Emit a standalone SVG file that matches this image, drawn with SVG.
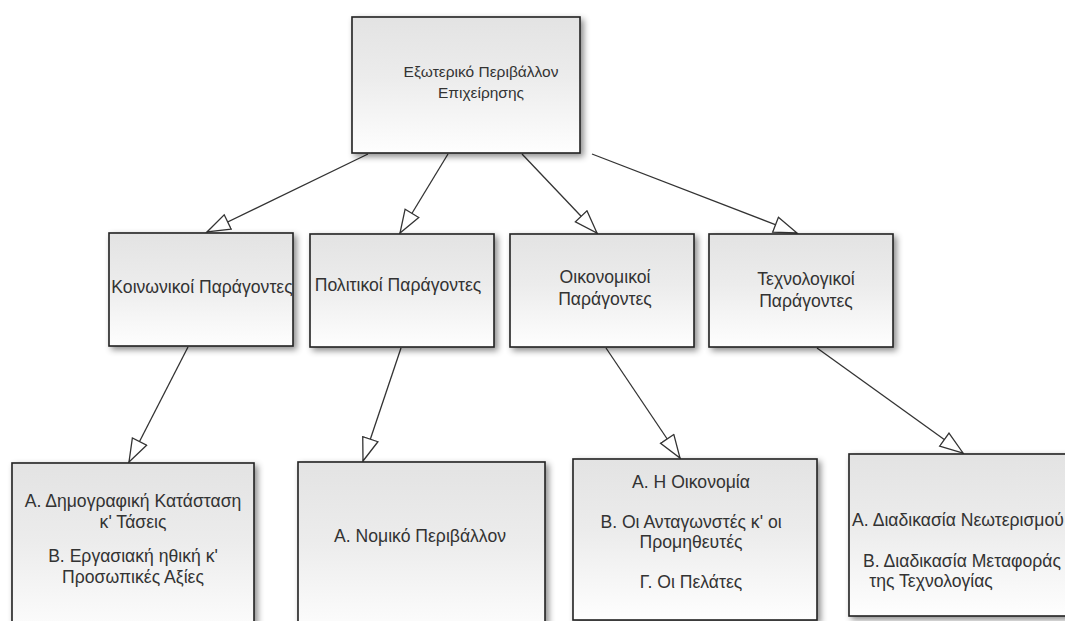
<svg xmlns="http://www.w3.org/2000/svg" width="1065" height="621" viewBox="0 0 1065 621">
<defs>
<linearGradient id="g" x1="0" y1="0" x2="0" y2="1">
<stop offset="0" stop-color="#e3e3e3"/>
<stop offset="0.45" stop-color="#ececec"/>
<stop offset="1" stop-color="#fefefe"/>
</linearGradient>
<filter id="sh" x="-10%" y="-10%" width="125%" height="125%">
<feDropShadow dx="3" dy="3" stdDeviation="3" flood-color="#000" flood-opacity="0.45"/>
</filter>
<marker id="ah" markerUnits="userSpaceOnUse" markerWidth="26" markerHeight="20" refX="24" refY="9" orient="auto">
<path d="M1,1 L24,9 L1,17 Z" fill="#fff" stroke="#333" stroke-width="1.3"/>
</marker>
<style>
.box{fill:url(#g);stroke:#222;stroke-width:1.6;filter:url(#sh)}
.t{font-family:"Liberation Sans",Arial,sans-serif;font-size:17.6px;fill:#333;text-anchor:middle}
.c{stroke:#333;stroke-width:1.3;fill:none;marker-end:url(#ah)}
</style>
</defs>
<rect width="1065" height="621" fill="#fff"/>
<g id="connectors">
<line class="c" x1="368" y1="154" x2="207" y2="232"/>
<line class="c" x1="448" y1="154" x2="400" y2="233"/>
<line class="c" x1="522" y1="154" x2="597" y2="233"/>
<line class="c" x1="592" y1="154" x2="797" y2="233"/>
<line class="c" x1="188" y1="347" x2="129" y2="462"/>
<line class="c" x1="401" y1="348" x2="363" y2="461"/>
<line class="c" x1="606" y1="348" x2="680" y2="458"/>
<line class="c" x1="817" y1="348" x2="963" y2="453"/>
</g>
<g id="n-top">
<rect class="box" x="352" y="17" width="228" height="136"/>
<text class="t" style="font-size:15.5px" x="481" y="77">Εξωτερικό Περιβάλλον</text>
<text class="t" style="font-size:15.5px" x="481" y="98">Επιχείρησης</text>
</g>
<g id="n-social">
<rect class="box" x="109" y="233" width="184" height="113"/>
<text class="t" x="202" y="293">Κοινωνικοί Παράγοντες</text>
</g>
<g id="n-political">
<rect class="box" x="310" y="234" width="184" height="113"/>
<text class="t" x="398" y="291">Πολιτικοί Παράγοντες</text>
</g>
<g id="n-economic">
<rect class="box" x="510" y="234" width="184" height="113"/>
<text class="t" x="605" y="283">Οικονομικοί</text>
<text class="t" x="605" y="305">Παράγοντες</text>
</g>
<g id="n-tech">
<rect class="box" x="709" y="234" width="184" height="113"/>
<text class="t" x="806" y="285">Τεχνολογικοί</text>
<text class="t" x="806" y="307">Παράγοντες</text>
</g>
<g id="n-social-detail">
<rect class="box" x="12" y="463" width="242" height="175"/>
<text class="t" x="133" y="507">Α. Δημογραφική Κατάσταση</text>
<text class="t" x="133" y="528">κ' Τάσεις</text>
<text class="t" x="133" y="562">Β. Εργασιακή ηθική κ'</text>
<text class="t" x="133" y="583">Προσωπικές Αξίες</text>
</g>
<g id="n-political-detail">
<rect class="box" x="298" y="462" width="247" height="175"/>
<text class="t" x="420" y="542">Α. Νομικό Περιβάλλον</text>
</g>
<g id="n-economic-detail">
<rect class="box" x="573" y="459" width="244" height="161"/>
<text class="t" x="691" y="488">Α. Η Οικονομία</text>
<text class="t" x="691" y="528">Β. Οι Ανταγωνστές κ' οι</text>
<text class="t" x="691" y="548">Προμηθευτές</text>
<text class="t" x="691" y="588">Γ. Οι Πελάτες</text>
</g>
<g id="n-tech-detail">
<rect class="box" x="849" y="454" width="260" height="162"/>
<text class="t" x="958" y="526">Α. Διαδικασία Νεωτερισμού</text>
<text class="t" x="962" y="567">Β. Διαδικασία Μεταφοράς</text>
<text class="t" x="931" y="587">της Τεχνολογίας</text>
</g>
</svg>
